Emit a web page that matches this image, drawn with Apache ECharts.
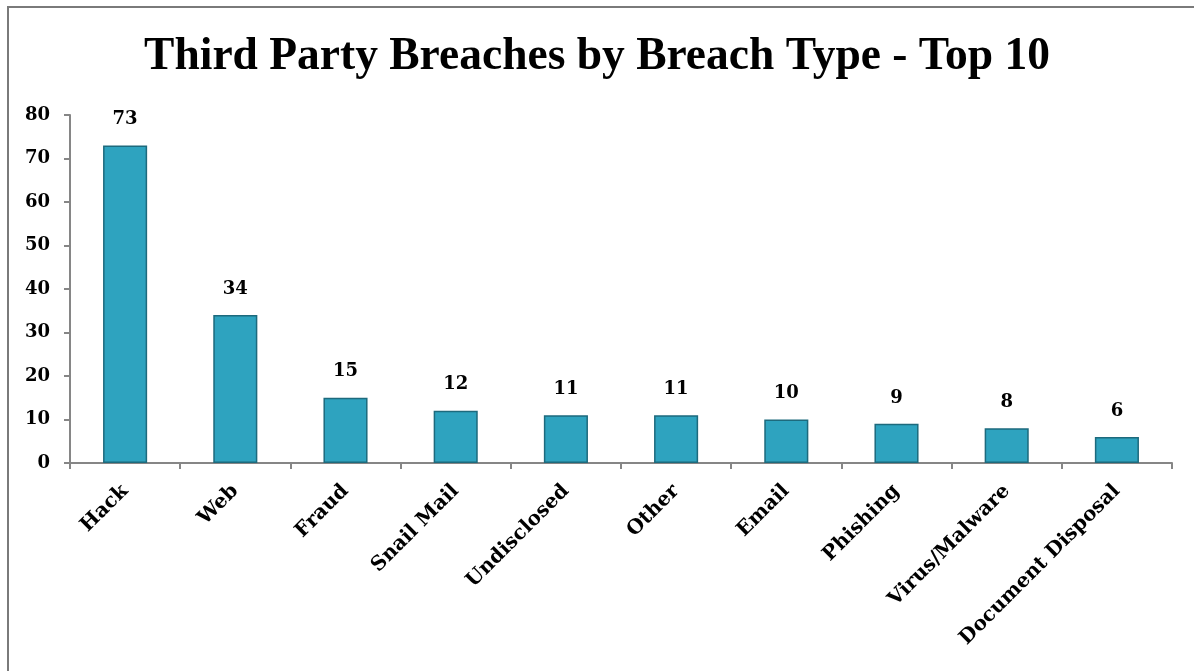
<!DOCTYPE html>
<html>
<head>
<meta charset="utf-8">
<script src="https://cdn.jsdelivr.net/npm/echarts@6/dist/echarts.min.js"></script>
<style>
  html, body { margin: 0; padding: 0; background: #fff; }
  #frame { position: absolute; left: 7px; top: 6px; width: 1200px; height: 680px;
           border-left: 2px solid #7a7a7a; border-top: 2px solid #7a7a7a; box-sizing: border-box; }
  #chart { position: absolute; left: 0; top: 0; width: 1194px; height: 671px; }
</style>
</head>
<body>
<div id="frame"></div>
<div id="chart"></div>
<script>
// Breach types and their counts
const categories = ['Hack', 'Web', 'Fraud', 'Snail Mail', 'Undisclosed', 'Other', 'Email', 'Phishing', 'Virus/Malware', 'Document Disposal'];
const breachCounts = [73, 34, 15, 12, 11, 11, 10, 9, 8, 6];
const yTicks = [0, 10, 20, 30, 40, 50, 60, 70, 80];

const titleFont = '"Liberation Serif", "DejaVu Serif", serif';
const labelFont = '"DejaVu Serif", "Liberation Serif", serif';
const axisGray = '#868686';

const chart = echarts.init(document.getElementById('chart'), null, { renderer: 'canvas' });
chart.setOption({
  animation: false,
  title: {
    text: 'Third Party Breaches by Breach Type - Top 10',
    left: 'center',
    top: 29,
    textStyle: { fontFamily: titleFont, fontWeight: 'bold', fontSize: 45.5, color: '#000' }
  },
  grid: { left: 70, right: 22, top: 115, bottom: 208, containLabel: false },
  xAxis: {
    type: 'category',
    data: categories,
    boundaryGap: true,
    axisLine: { lineStyle: { color: axisGray, width: 2 } },
    axisTick: { show: true, alignWithLabel: false, length: 6, lineStyle: { color: axisGray, width: 2 } },
    axisLabel: {
      rotate: 45, interval: 0, margin: 25,
      fontFamily: labelFont, fontWeight: 'bold', fontSize: 20, color: '#000'
    }
  },
  yAxis: {
    type: 'value',
    min: yTicks[0],
    max: yTicks[yTicks.length - 1],
    interval: 10,
    splitLine: { show: false },
    axisLine: { show: true, lineStyle: { color: axisGray, width: 2 } },
    axisTick: { show: true, length: 6, lineStyle: { color: axisGray, width: 2 } },
    axisLabel: { margin: 20, fontFamily: labelFont, fontWeight: 'bold', fontSize: 18, color: '#000' }
  },
  series: [{
    type: 'bar',
    data: breachCounts,
    barWidth: '40%',
    itemStyle: { color: '#2ea3bf', borderColor: '#1d6a7d', borderWidth: 1.5 },
    label: {
      show: true, position: 'top', distance: 17,
      fontFamily: labelFont, fontWeight: 'bold', fontSize: 18, color: '#000'
    }
  }]
});
</script>
</body>
</html>
